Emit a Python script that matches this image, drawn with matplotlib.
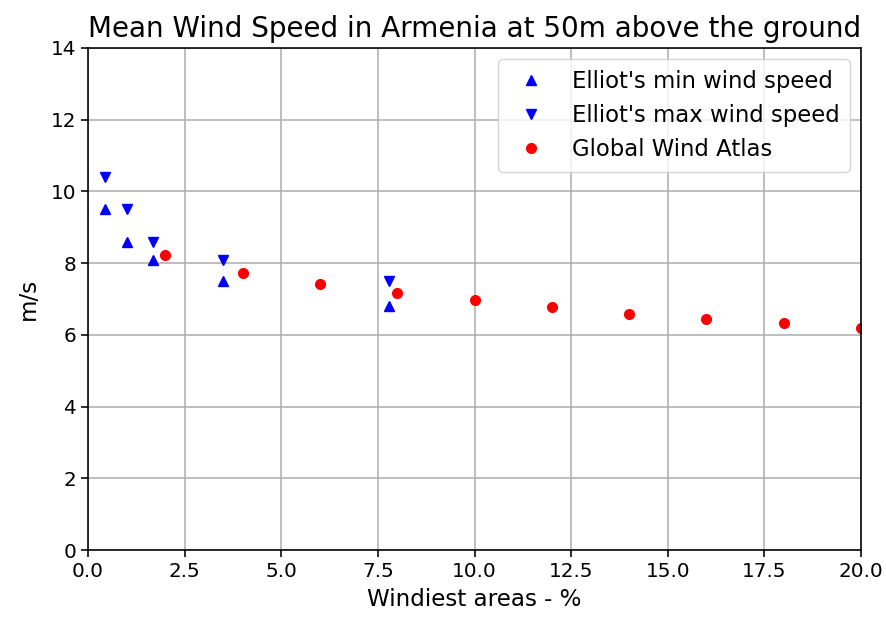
import numpy as np
import matplotlib
matplotlib.use('Agg')
import matplotlib.pyplot as plt

# Elliot's estimates
elliot_x = [0.44, 1.0, 1.67, 3.5, 7.8]
elliot_min = [9.5, 8.6, 8.1, 7.5, 6.8]
elliot_max = [10.4, 9.5, 8.6, 8.1, 7.5]

# Global Wind Atlas
gwa_x = [2, 4, 6, 8, 10, 12, 14, 16, 18, 20]
gwa_speed = [8.22, 7.72, 7.42, 7.18, 6.98, 6.78, 6.59, 6.45, 6.32, 6.19]

s = 1.44  # scale from jupyter default dpi
plt.rcParams['font.size'] = 10 * s
plt.rcParams['axes.linewidth'] = 0.8 * s
plt.rcParams['xtick.major.width'] = 0.8 * s
plt.rcParams['ytick.major.width'] = 0.8 * s
plt.rcParams['xtick.major.size'] = 3.5 * s
plt.rcParams['ytick.major.size'] = 3.5 * s
plt.rcParams['grid.linewidth'] = 0.8 * s

fig = plt.figure(figsize=(8.87, 6.2), dpi=100)
ax = fig.add_axes([0.0992, 0.1129, 0.8715, 0.8097])

ms = 7
ax.plot(elliot_x, elliot_min, 'b^', markersize=ms, label="Elliot's min wind speed")
ax.plot(elliot_x, elliot_max, 'bv', markersize=ms, label="Elliot's max wind speed")
ax.plot(gwa_x, gwa_speed, 'ro', markersize=ms, label="Global Wind Atlas")

ax.set_xlim(0, 20)
ax.set_ylim(0, 14)
ax.grid(True)
ax.set_title("Mean Wind Speed in Armenia at 50m above the ground", fontsize=20, pad=8)
ax.set_xlabel("Windiest areas - %", fontsize=16.6, labelpad=5)
ax.set_ylabel("m/s", fontsize=16.6, labelpad=8)
ax.legend(loc='upper right', fontsize=16.4, handlelength=2.0, borderpad=0.45)

fig.savefig('out.png', dpi=100)
